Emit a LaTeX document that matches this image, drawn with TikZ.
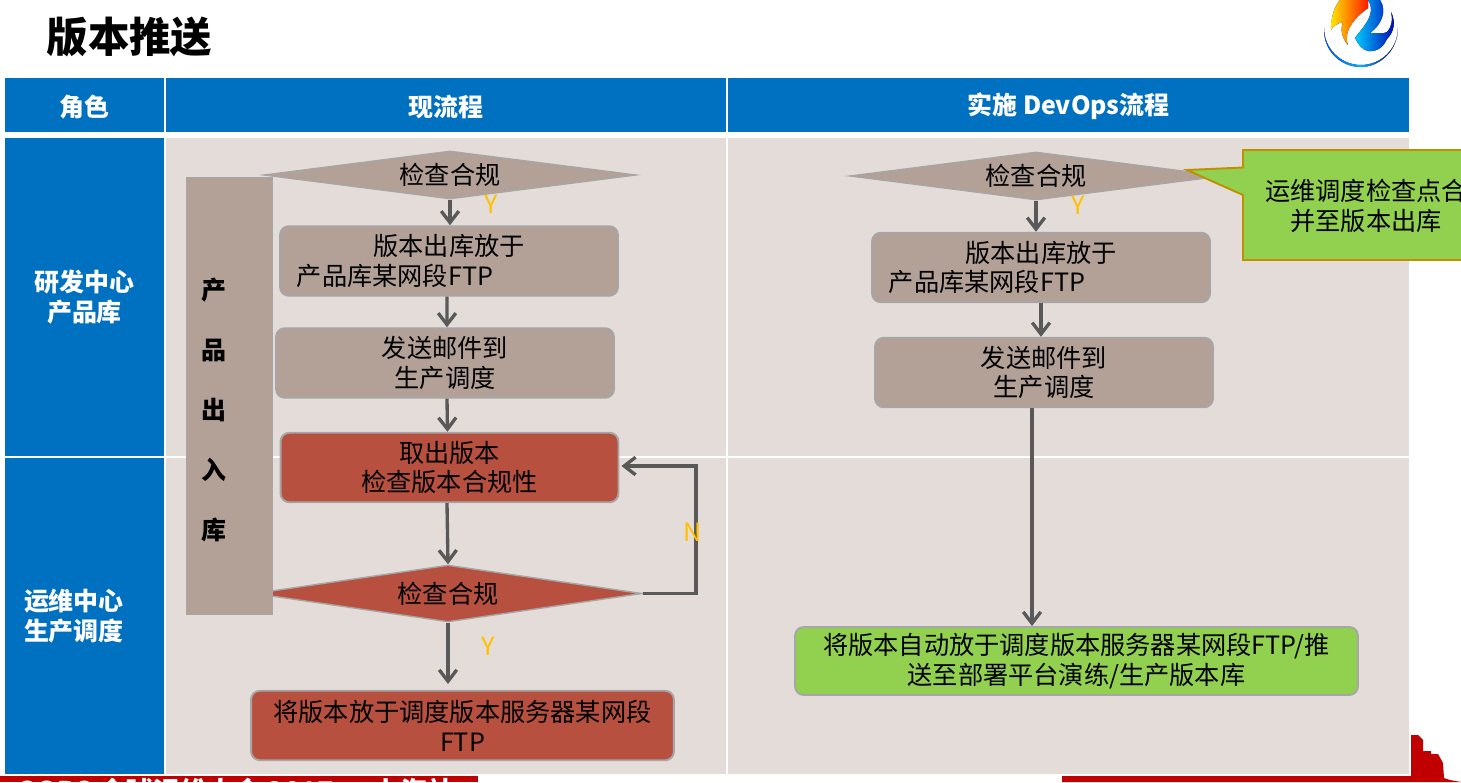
\documentclass[tikz,border=0pt]{standalone}
\usepackage{fontspec}
\setmainfont{Noto Sans CJK SC}
\usetikzlibrary{arrows.meta, shapes.geometric}
\definecolor{hdblue}{HTML}{0070C0}
\definecolor{lane}{HTML}{E4DCD9}
\definecolor{taupe}{HTML}{B3A198}
\definecolor{brick}{HTML}{B85040}
\definecolor{leaf}{HTML}{92D050}
\definecolor{edgegray}{HTML}{A6A6A6}
\definecolor{flowgray}{HTML}{595959}
\definecolor{ymark}{HTML}{FFC000}
\definecolor{gold}{HTML}{BF9000}
\definecolor{footred}{HTML}{C00000}
\newcommand{\flowsize}{\fontsize{14.35}{17}\selectfont}
\newcommand{\headsize}{\fontsize{14.2}{16.8}\selectfont\bfseries}

\begin{document}
\begin{tikzpicture}[
    x=0.02cm, y=-0.02cm,
    hd/.style={fill=hdblue, text=white, font=\headsize, inner sep=0pt, align=center},
    lanebox/.style={fill=lane, inner sep=0pt},
    flowbox/.style={draw=edgegray, line width=1.1pt, rounded corners=5pt, inner sep=0pt,
                    text=black, font=\flowsize, align=center,
                    minimum width=6.76cm, minimum height=1.39cm},
    chk/.style={diamond, aspect=7.8, draw=edgegray, line width=0.8pt, inner sep=0pt,
                text=black, font=\flowsize},
    flow/.style={draw=flowgray, line width=1.9pt, -{Straight Barb[length=6.5pt, width=10pt]}},
    ynmark/.style={text=ymark, font=\flowsize, inner sep=0pt},
  ]
  \path[use as bounding box, clip] (0,0) rectangle (1461,782);

  % ===== title and logo =====
  \node[font=\fontsize{23.6}{28}\selectfont\bfseries, inner sep=0pt] (title) at (129.5,37) {版本推送};
  \fill[left color=blue!70!cyan, right color=blue!60!black, middle color=cyan!70!blue]
    (1324,28) arc[start angle=180, end angle=0, radius=37] .. controls (1398,50) and (1380,67) .. (1361,67)
    .. controls (1340,67) and (1323,50) .. (1324,28) -- cycle;
  \fill[white] (1328,0) rectangle (1396,28)
    (1327,28) .. controls (1333,45) and (1347,56) .. (1363,56) .. controls (1378,56) and (1392,45) .. (1395,28) -- cycle;
  \fill[left color=yellow!80!orange, right color=red!80!orange]
    (1331,30) .. controls (1331,15) and (1335,6) .. (1340,0) -- (1368,0) -- (1368,8)
    .. controls (1358,15) and (1342,30) .. (1348,45) .. controls (1342,38) and (1340,30) .. (1343,22)
    .. controls (1336,24) and (1333,26) .. (1331,30) -- cycle;
  \fill[left color=cyan!80!blue, right color=blue!70!black]
    (1368,0) -- (1380,0) .. controls (1388,12) and (1380,26) .. (1370,33)
    .. controls (1378,33) and (1384,34) .. (1387,32) .. controls (1392,26) and (1393,20) .. (1391,12)
    .. controls (1396,22) and (1394,32) .. (1387,39) .. controls (1384,46) and (1378,52) .. (1368,51)
    .. controls (1362,50) and (1358,44) .. (1355,38) .. controls (1360,30) and (1378,15) .. (1368,0) -- cycle;

  % ===== table =====
  \node[hd, minimum width=3.18cm, minimum height=1.08cm] (role) at (84.5,105) {\rule{0pt}{0.5cm}角色};
  \node[hd, minimum width=11.2cm, minimum height=1.08cm] (nowhd) at (446,105) {\rule{0pt}{0.5cm}现流程};
  \node[hd, minimum width=13.62cm, minimum height=1.08cm] (devhd) at (1068.5,105) {\rule{0pt}{0.5cm}实施 DevOps流程};
  \node[hd, minimum width=3.18cm, minimum height=6.36cm] (rdrole) at (84.5,297) {研发中心\\产品库};
  \node[hd, minimum width=3.18cm, minimum height=6.32cm, text width=3.18cm, align=left] (oprole) at (84.5,616)
    {\hspace*{0.38cm}运维中心\\\hspace*{0.38cm}生产调度};
  \node[lanebox, minimum width=11.2cm, minimum height=6.36cm] (lane1) at (446,297) {};
  \node[lanebox, minimum width=11.2cm, minimum height=6.32cm] (lane2) at (446,616) {};
  \node[lanebox, minimum width=13.62cm, minimum height=6.36cm] (lane3) at (1068.5,297) {};
  \node[lanebox, minimum width=13.62cm, minimum height=6.32cm] (lane4) at (1068.5,616) {};

  % ===== current flow =====
  \node[chk, fill=taupe, minimum width=7.44cm, minimum height=0.96cm] (chk1) at (450,175) {检查合规};
  \node[flowbox, fill=taupe] (put1) at (449,261) {版本出库放于\\产品库某网段FTP\hspace*{2.16cm}};
  \node[flowbox, fill=taupe] (mail1) at (445,363) {发送邮件到\\生产调度};
  \node[flowbox, fill=brick] (fetch) at (449.5,467.5) {取出版本\\检查版本合规性};
  \node[chk, fill=brick, minimum width=7.76cm, minimum height=1.14cm] (chk2) at (448,593.5) {检查合规};
  \node[fill=taupe, draw=edgegray, line width=0.5pt, minimum width=1.72cm, minimum height=8.74cm] (store) at (229,395.5) {};
  \node[font=\fontsize{14.2}{34.1}\selectfont\bfseries, align=center, inner sep=0pt] (storetxt) at (214,410) {产\\品\\出\\入\\库};
  \node[flowbox, fill=brick, minimum width=8.46cm] (put2) at (462.5,725.5) {将版本放于调度版本服务器某网段\\FTP};
  \coordinate (put2top) at (448,684);
  \draw[flow] (chk1.south) -- (chk1.south |- put1.north);
  \draw[flow] ([xshift=-0.04cm]put1.south) -- ([xshift=0.04cm]mail1.north);
  \draw[flow] ([xshift=0.04cm]mail1.south) -- ([xshift=-0.04cm]fetch.north);
  \draw[flow] ([xshift=-0.05cm]fetch.south) -- (chk2.north);
  \draw[flow] (chk2.south) -- (put2top);
  \draw[flow] (chk2.east) -- (696,593.5) |- ([xshift=0.04cm,yshift=0.03cm]fetch.east);
  \node[ynmark] (y1) at (491,204) {Y};
  \node[ynmark] (no) at (693,532) {N};
  \node[ynmark] (y2) at (488,646) {Y};

  % ===== devops flow =====
  \node[chk, fill=taupe, minimum width=7.44cm, minimum height=0.96cm] (chk3) at (1036,176) {检查合规};
  \node[flowbox, fill=taupe] (put3) at (1041,267.5) {版本出库放于\\产品库某网段FTP\hspace*{2.16cm}};
  \node[flowbox, fill=taupe] (mail2) at (1044,372.5) {发送邮件到\\生产调度};
  \node[flowbox, fill=leaf, minimum width=11.26cm, minimum height=1.36cm] (auto) at (1076.5,661)
    {将版本自动放于调度版本服务器某网段FTP/推\\送至部署平台演练/生产版本库};
  \draw[flow] (chk3.south) -- (chk3.south |- put3.north);
  \draw[flow] (put3.south) -- (put3.south |- mail2.north);
  \draw[flow] ([xshift=-0.24cm]mail2.south) -- ([xshift=-0.24cm]mail2.south |- auto.north);
  \node[ynmark] (y3) at (1078,205) {Y};

  % ===== callout =====
  \fill[leaf, draw=gold, line width=1.1pt] (1187,170) -- (1243,167.5) -- (1243,150) -- (1480,150) -- (1480,260)
    -- (1243,260) -- (1243,195) -- cycle;
  \node[font=\flowsize, align=center, inner sep=0pt] (hint) at (1366,206) {运维调度检查点合\\并至版本出库};

  % ===== footer =====
  \fill[footred] (0,776) rectangle (478,782);
  \fill[footred] (1062,776) -- (1411,776) -- (1411,735) -- (1418,735) -- (1423,740) -- (1423,751) -- (1431,751)
    -- (1431,754) -- (1438,754) -- (1443,763) -- (1444,778) -- (1450,780) -- (1461,782) -- (1062,782) -- cycle;
  \node[text=white, font=\fontsize{15.4}{18}\selectfont\bfseries, inner sep=0pt, anchor=west] (foot) at (16,791) {GOPS 全球运维大会 2017 · 上海站};
\end{tikzpicture}
\end{document}
